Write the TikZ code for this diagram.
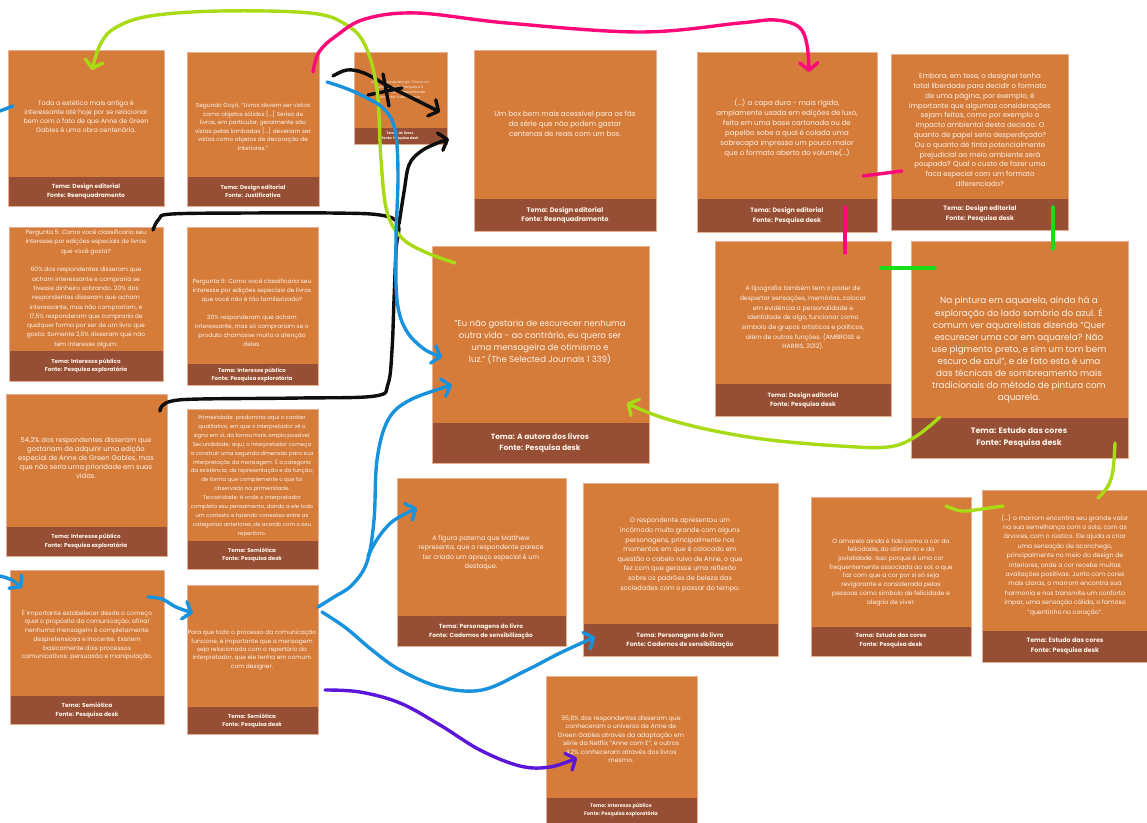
\documentclass[tikz,border=0pt]{standalone}
\usepackage{fontspec}
\setmainfont{Poppins}
\usetikzlibrary{arrows.meta,fit}
\definecolor{cbody}{RGB}{213,124,58}
\definecolor{cfoot}{RGB}{150,79,52}
\definecolor{cedge}{RGB}{232,176,146}
\definecolor{ctext}{RGB}{255,243,232}
\definecolor{clime}{RGB}{168,218,22}
\definecolor{cgreen}{RGB}{24,222,24}
\definecolor{cpink}{RGB}{255,8,122}
\definecolor{cblue}{RGB}{24,146,220}
\definecolor{cpurple}{RGB}{92,22,218}
\definecolor{cblack}{RGB}{14,14,14}
\newcommand\mycard[6]{%
  \fill[cbody] (#2,#3) rectangle (#4,#5);
  \fill[cfoot] (#2,#6) rectangle (#4,#5);
  \draw[cedge, line width=0.7] (#2,#3) rectangle (#4,#5);
  \node[fit={(#2,#3) (#4,#5)}, inner sep=0pt] (#1) {};
}
\newcommand\fs[2]{\fontsize{#1}{#2}\selectfont}
\tikzset{
  txt/.style={text=ctext, align=center, inner sep=0pt},
  ftxt/.style={text=ctext, align=center, inner sep=0pt},
  stroke/.style={line width=3.4, line cap=round, line join=round},
  barb/.style={-{Straight Barb[length=7.5pt,width=18pt,round]}},
}
\begin{document}
\begin{tikzpicture}[x=1pt,y=-1pt]
\useasboundingbox (0,0) rectangle (1147,822);
\fill[white] (0,0) rectangle (1147,822);

% ---------- cards ----------
\mycard{c1}{8}{50}{164}{206}{177}
\mycard{c2}{187}{52}{319}{206}{177}
\mycard{c3}{354}{52}{447}{144}{128}
\mycard{c4}{474}{50}{656}{231}{199}
\mycard{c5}{697}{52}{877}{232}{199}
\mycard{c6}{891}{54}{1068}{230}{199}
\mycard{c7}{9}{227}{163}{381}{351}
\mycard{c8}{187}{227}{318}{385}{364}
\mycard{c9}{432}{246}{649}{463}{423}
\mycard{c10}{715}{241}{891}{416}{384}
\mycard{c11}{911}{241}{1128}{458}{418}
\mycard{c12}{6}{394}{167}{556}{527}
\mycard{c13}{187}{409}{318}{569}{541}
\mycard{c14}{397}{478}{566}{646}{616}
\mycard{c15}{583}{483}{778}{656}{624}
\mycard{c16}{811}{497}{971}{656}{627}
\mycard{c17}{982}{490}{1150}{662}{631}
\mycard{c18}{10}{570}{164}{724}{696}
\mycard{c19}{187}{585}{318}{734}{707}
\mycard{c20}{546}{676}{697}{825}{798}

% ---------- texts ----------
\node[txt, font=\fs{6.4}{9}] (t1) at (86,117) {Toda a estética mais antiga é\\interessante até hoje por se relacionar\\bem com o fato de que Anne de Green\\Gables é uma obra centenária.};
\node[ftxt, font=\bfseries\fs{5.9}{8.3}] (f1) at (86,191.5) {Tema: Design editorial\\Fonte: Reenquadramento};

\node[txt, font=\fs{5.8}{8.5}] (t2) at (253,127) {Segundo Goyô, “Livros devem ser vistos\\como objetos sólidos [...] Séries de\\livros, em particular, geralmente são\\vistas pelas lombadas [...] deveriam ser\\vistas como objetos de decoração de\\interiores.”};
\node[ftxt, font=\bfseries\fs{5.6}{8.3}] (f2) at (253,191.5) {Tema: Design editorial\\Fonte: Justificativa};

\node[txt, font=\fs{3.4}{5}] (t3) at (400,90) {A série é composta por 11 livros no\\total, sendo 6 principais e 5\\secundários, acompanhando\\Anne dos 11 aos 25 anos};
\node[ftxt, font=\bfseries\fs{3.4}{5}] (f3) at (400,136) {Tema: Os livros\\Fonte: Pesquisa desk};

\node[txt, font=\fs{7.1}{10}] (t4) at (565,124) {Um box bem mais acessível para os fãs\\da série que não podem gastar\\centenas de reais com um box.};
\node[ftxt, font=\bfseries\fs{6.6}{9.5}] (f4) at (565,215) {Tema: Design editorial\\Fonte: Reenquadramento};

\node[txt, font=\fs{7}{10}] (t5) at (787,128) {(...) a capa dura - mais rígida,\\amplamente usada em edições de luxo,\\feita em uma base cartonada ou de\\papelão sobe a qual é colada uma\\sobrecapa impressa um pouco maior\\que o formato aberto do volume(...)};
\node[ftxt, font=\bfseries\fs{6.3}{9.5}] (f5) at (787,216) {Tema: Design editorial\\Fonte: Pesquisa desk};

\node[txt, font=\fs{7}{9.8}] (t6) at (980,130) {Embora, em tese, o designer tenha\\total liberdade para decidir o formato\\de uma página, por exemplo, é\\importante que algumas considerações\\sejam feitas, como por exemplo o\\impacto ambiental desta decisão. O\\quanto de papel seria desperdiçado?\\Ou o quanto de tinta potencialmente\\prejudicial ao meio ambiente será\\poupada? Qual o custo de fazer uma\\faca especial com um formato\\diferenciado?};
\node[ftxt, font=\bfseries\fs{6.3}{9.5}] (f6) at (980,214) {Tema: Design editorial\\Fonte: Pesquisa desk};

\node[txt, font=\fs{6.0}{9.3}] (t7) at (86,289) {Pergunta 5: Como você classificaria seu\\interesse por edições especiais de livros\\que você gosta?\\\mbox{}\\60\% dos respondentes disseram que\\acham interessante e compraria se\\tivesse dinheiro sobrando. 20\% dos\\respondentes disseram que acham\\interessante, mas não comprariam, e\\17,5\% responderam que compraria de\\qualquer forma por ser de um livro que\\gosta. Somente 2,5\% disseram que não\\tem interesse algum.};
\node[ftxt, font=\bfseries\fs{5.6}{8}] (f7) at (86,366) {Tema: Interesse público\\Fonte: Pesquisa exploratória};

\node[txt, font=\fs{5.9}{9}] (t8) at (252,313) {Pergunta 6: Como você classificaria seu\\interesse por edições especiais de livros\\que você não é tão familiarizado?\\\mbox{}\\30\% responderam que acham\\interessante, mas só comprariam se o\\produto chamasse muito a atenção\\deles.};
\node[ftxt, font=\bfseries\fs{5.5}{8}] (f8) at (252,374.5) {Tema: Interesse público\\Fonte: Pesquisa exploratória};

\node[txt, font=\fs{8.5}{12.3}] (t9) at (540,342) {"Eu não gostaria de escurecer nenhuma\\outra vida - ao contrário, eu quero ser\\uma mensageira de otimismo e\\luz." (The Selected Journals 1 339)};
\node[ftxt, font=\bfseries\fs{7.5}{11.5}] (f9) at (540,443) {Tema: A autora dos livros\\Fonte: Pesquisa desk};

\node[txt, font=\fs{6.2}{9.7}] (t10) at (803,318) {A tipografia também tem o poder de\\despertar sensações, memórias, colocar\\em evidência a personalidade e\\identidade de algo, funcionar como\\simbolo de grupos artisticos e politicos,\\além de outras funções. (AMBROSE e\\HARRIS, 2012).};
\node[ftxt, font=\bfseries\fs{6.1}{9}] (f10) at (803,400) {Tema: Design editorial\\Fonte: Pesquisa desk};

\node[txt, font=\fs{8.8}{12.1}] (t11) at (1019,350) {Na pintura em aquarela, ainda há a\\exploração do lado sombrio do azul. É\\comum ver aquarelistas dizendo "Quer\\escurecer uma cor em aquarela? Não\\use pigmento preto, e sim um tom bem\\escuro de azul", e de fato esta é uma\\das técnicas de sombreamento mais\\tradicionais do método de pintura com\\aquarela.};
\node[ftxt, font=\bfseries\fs{7.9}{12}] (f11) at (1019,438) {Tema: Estudo das cores\\Fonte: Pesquisa desk};

\node[txt, font=\fs{6.8}{9}] (t12) at (86,458) {54,2\% dos respondentes disseram que\\gostariam de adquirir uma edição\\especial de Anne de Green Gables, mas\\que não seria uma prioridade em suas\\vidas.};
\node[ftxt, font=\bfseries\fs{5.6}{8.3}] (f12) at (86,541.5) {Tema: Interesse público\\Fonte: Pesquisa exploratória};

\node[txt, font=\fs{5.4}{8.9}] (t13) at (252,476) {Primeiridade: predomina aqui o caráter\\qualitativo, em que o interpretador vê o\\signo em si, da forma mais ampla possível.\\Secundidade: aqui, o interpretador começa\\a construir uma segunda dimensão para sua\\interpretação da mensagem. É a categoria\\da existência, da representação e da função,\\de forma que complemente o que foi\\observado na primeiridade.\\Terceiridade: é onde o interpretador\\completa seu pensamento, dando a ele todo\\um contexto e fazendo conexões entre as\\categorias anteriores, de acordo com o seu\\repertório.};
\node[ftxt, font=\bfseries\fs{5.5}{8.4}] (f13) at (252,555) {Tema: Semiótica\\Fonte: Pesquisa desk};

\node[txt, font=\fs{6.5}{9.4}] (t14) at (481,553) {A figura paterna que Matthew\\representa, que o respondente parece\\ter criado um apreço especial é um\\destaque.};
\node[ftxt, font=\bfseries\fs{5.9}{9}] (f14) at (481,631) {Tema: Personagens do livro\\Fonte: Cadernos de sensibilização};

\node[txt, font=\fs{6.5}{9.6}] (t15) at (680,555) {O respondente apresentou um\\incômodo muito grande com alguns\\personagens, principalmente nos\\momentos em que é colocado em\\questão o cabelo ruivo de Anne, o que\\fez com que gerasse uma reflexão\\sobre os padrões de beleza das\\sociedades com o passar do tempo.};
\node[ftxt, font=\bfseries\fs{6.1}{9.2}] (f15) at (680,640) {Tema: Personagens do livro\\Fonte: Cadernos de sensibilização};

\node[txt, font=\fs{6.1}{8.7}] (t16) at (891,572) {O amarelo ainda é tido como a cor da\\felicidade, do otimismo e da\\jovialidade. Isso porque é uma cor\\frequentemente associada ao sol, o que\\faz com que a cor por si só seja\\revigorante e considerada pelas\\pessoas como simbolo de felicidade e\\alegria de viver.};
\node[ftxt, font=\bfseries\fs{5.8}{9}] (f16) at (891,641) {Tema: Estudo das cores\\Fonte: Pesquisa desk};

\node[txt, font=\fs{6.2}{9.4}] (t17) at (1065,565) {(...) o marrom encontra seu grande valor\\na sua semelhança com o solo, com as\\árvores, com o rústico. Ele ajuda a criar\\uma sensação de aconchego,\\principalmente no meio do design de\\interiores, onde a cor recebe muitas\\avaliações positivas. Junto com cores\\mais claras, o marrom encontra sua\\harmonia e nos transmite um conforto\\ímpar, uma sensação cálida, o famoso\\"quentinho no coração".};
\node[ftxt, font=\bfseries\fs{6.3}{9.3}] (f17) at (1065,646) {Tema: Estudo das cores\\Fonte: Pesquisa desk};

\node[txt, font=\fs{6.1}{8.7}] (t18) at (87,635) {É importante estabelecer desde o começo\\qual o propósito da comunicação, afinal\\nenhuma mensagem é completamente\\despretensiosa e inocente. Existem\\basicamente dois processos\\comunicativos: persuasão e manipulação.};
\node[ftxt, font=\bfseries\fs{5.8}{8.7}] (f18) at (87,710) {Tema: Semiótica\\Fonte: Pesquisa desk};

\node[txt, font=\fs{5.9}{8.3}] (t19) at (252,650) {Para que todo o processo da comunicação\\funcione, é importante que a mensagem\\seja relacionada com o repertório do\\interpretador, que ele tenha em comum\\com designer.};
\node[ftxt, font=\bfseries\fs{5.5}{8.2}] (f19) at (252,721) {Tema: Semiótica\\Fonte: Pesquisa desk};

\node[txt, font=\fs{6.2}{8.5}] (t20) at (621,739) {95,8\% dos respondentes disseram que\\conheceram o universo de Anne de\\Green Gables através da adaptação em\\série da Netflix "Anne com E", e outros\\4,2\% conheceram através dos livros\\mesmo.};
\node[ftxt, font=\bfseries\fs{5}{7.5}] (f20) at (621,810) {Tema: Interesse público\\Fonte: Pesquisa exploratória};

% ---------- strokes ----------
% black
\draw[cblack, stroke] plot[smooth, tension=0.6] coordinates {(153,230) (159,219) (172,214) (250,213) (330,213) (380,215) (398,224) (396,250) (394,300) (392,350) (388,384) (375,396) (300,398) (200,399) (172,401) (162,406) (160,411)};
\draw[cblack, stroke, barb] plot[smooth, tension=0.6] coordinates {(399,224) (404,192) (409,165) (420,152) (435,144) (449,139)};
\draw[cblack, stroke, barb] plot[smooth, tension=0.6] coordinates {(333,76) (347,70) (364,73) (388,86) (412,98) (440,112)};
\draw[cblack, stroke] (383,74) -- (389,106);
\draw[cblack, stroke] (368,95) -- (402,88);

% lime
\draw[clime, stroke, barb] plot[smooth, tension=0.6] coordinates {(455,263) (425,252) (402,238) (387,212) (381,160) (377,90) (365,45) (345,24) (310,13) (220,11) (150,16) (115,28) (100,45) (92,70)};
\draw[clime, stroke, barb] plot[smooth, tension=0.6] coordinates {(940,417) (915,437) (888,447) (840,446) (770,440) (715,431) (670,420) (642,410) (627,403)};
\draw[clime, stroke] plot[smooth, tension=0.6] coordinates {(1115,443) (1113,470) (1108,486) (1098,498)};
\draw[clime, stroke] plot[smooth, tension=0.6] coordinates {(946,506) (962,511) (982,509) (1003,506)};

% bright green
\draw[cgreen, stroke] (1053,207) -- (1053,249);
\draw[cgreen, stroke] (881,268) -- (935,268);

% pink
\draw[cpink, stroke, barb] plot[smooth, tension=0.6] coordinates {(313,72) (319,52) (336,36) (365,19) (417,13) (507,23) (640,32) (740,23) (775,20) (799,27) (807,45) (809,72)};
\draw[cpink, stroke] (863,176) -- (902,171);
\draw[cpink, stroke] (845,207) -- (845,253);

% blue
\draw[cblue, stroke] (0,111) -- (13,106);
\draw[cblue, stroke, barb] plot[smooth, tension=0.6] coordinates {(327,82) (345,88) (363,96) (384,109) (395,130) (398,175) (396,240) (397,300) (406,330) (424,349) (442,357)};
\draw[cblue, stroke, barb] plot[smooth, tension=0.6] coordinates {(318,607) (334,597) (352,585) (367,562) (374,520) (377,460) (388,420) (410,400) (452,385)};
\draw[cblue, stroke, barb] plot[smooth, tension=0.6] coordinates {(368,556) (378,538) (393,521) (417,508)};
\draw[cblue, stroke, barb] plot[smooth, tension=0.6] coordinates {(322,612) (346,628) (372,650) (400,670) (440,687) (482,690) (525,671) (560,653) (595,637)};
\draw[cblue, stroke, barb] plot[smooth, tension=0.6] coordinates {(0,576) (12,580) (22,588)};
\draw[cblue, stroke, barb] plot[smooth, tension=0.6] coordinates {(148,597) (162,599) (176,607) (193,613)};

% purple
\draw[cpurple, stroke, barb] plot[smooth, tension=0.6] coordinates {(325,690) (360,692) (400,703) (440,725) (480,750) (520,766) (550,767) (577,758)};
\end{tikzpicture}
\end{document}
